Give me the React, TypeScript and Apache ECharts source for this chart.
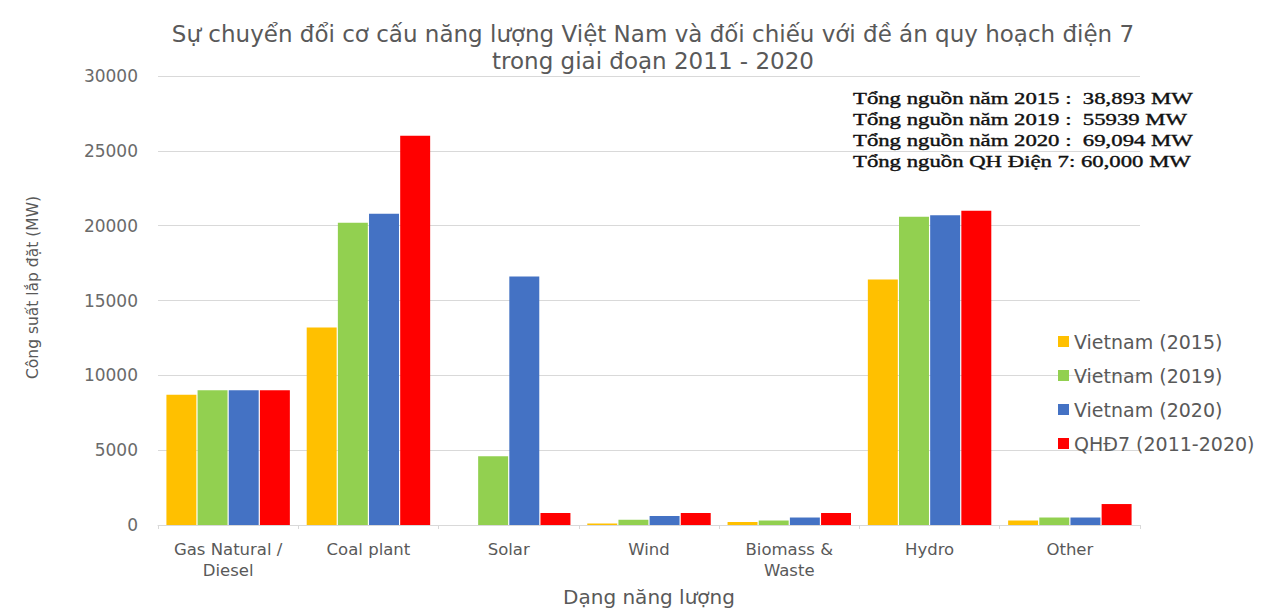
import React, { useEffect, useRef } from "react";
import * as echarts from "echarts";

const categories = [
  "Gas Natural /\nDiesel",
  "Coal plant",
  "Solar",
  "Wind",
  "Biomass &\nWaste",
  "Hydro",
  "Other",
];
const seriesNames = ["Vietnam (2015)", "Vietnam (2019)", "Vietnam (2020)", "QHĐ7 (2011-2020)"];
const vn2015 = [8700, 13200, 0, 100, 200, 16400, 300];
const vn2019 = [9000, 20200, 4600, 350, 300, 20600, 500];
const vn2020 = [9000, 20800, 16600, 600, 500, 20700, 500];
const qhd7 = [9000, 26000, 800, 800, 800, 21000, 1400];
const colors = ["#FFC000", "#92D050", "#4472C4", "#FF0000"];
const summaryLines = [
  "Tổng nguồn năm 2015 :  38,893 MW",
  "Tổng nguồn năm 2019 :  55939 MW",
  "Tổng nguồn năm 2020 :  69,094 MW",
  "Tổng nguồn QH Điện 7: 60,000 MW",
];

const FONT = "DejaVu Sans";
const GRAY = "#595959";

export default function App() {
  const ref = useRef<HTMLDivElement>(null);
  useEffect(() => {
    if (!ref.current) return;
    const chart = echarts.init(ref.current, undefined, { renderer: "svg" });
    const allSeries = [vn2015, vn2019, vn2020, qhd7];
    chart.setOption({
      animation: false,
      backgroundColor: "#ffffff",
      title: {
        text: "Sự chuyển đổi cơ cấu năng lượng Việt Nam và đối chiếu với đề án quy hoạch điện 7\ntrong giai đoạn 2011 - 2020",
        left: 648,
        textAlign: "center",
        top: 15,
        textStyle: {
          fontFamily: FONT,
          fontSize: 23,
          fontWeight: "normal",
          color: GRAY,
          lineHeight: 27,
        },
      },
      legend: {
        orient: "vertical",
        left: 1053,
        top: 327,
        itemGap: 15,
        itemWidth: 11,
        itemHeight: 11,
        icon: "rect",
        data: seriesNames,
        textStyle: { fontFamily: FONT, fontSize: 19, color: GRAY },
      },
      grid: { left: 158, right: 143, top: 76, bottom: 80, containLabel: false },
      xAxis: {
        type: "category",
        data: categories,
        name: "Dạng năng lượng",
        nameLocation: "middle",
        nameGap: 62,
        nameTextStyle: { fontFamily: FONT, fontSize: 20, color: GRAY },
        axisLine: { lineStyle: { color: "#d9d9d9" } },
        axisTick: { show: true, lineStyle: { color: "#d9d9d9" }, length: 4 },
        axisLabel: {
          fontFamily: FONT,
          fontSize: 16.5,
          color: GRAY,
          lineHeight: 21,
          margin: 14,
          interval: 0,
        },
      },
      yAxis: {
        type: "value",
        min: 0,
        max: 30000,
        interval: 5000,
        name: "Công suất lắp đặt (MW)",
        nameLocation: "middle",
        nameRotate: 90,
        nameGap: 117,
        nameTextStyle: {
          fontFamily: FONT,
          fontSize: 15.5,
          color: GRAY,
          padding: [0, 0, 0, 26],
        },
        axisLine: { show: false },
        axisTick: { show: false },
        splitLine: { lineStyle: { color: "#d9d9d9" } },
        axisLabel: {
          fontFamily: FONT,
          fontSize: 17,
          color: "#6a6a6a",
          margin: 20,
          formatter: (v: number) => String(v),
        },
      },
      series: allSeries.map((d, i) => ({
        name: seriesNames[i],
        type: "bar",
        data: d,
        barGap: "4%",
        barCategoryGap: "12%",
        itemStyle: { color: colors[i] },
      })),
      graphic: summaryLines.map((t, i) => ({
        type: "text",
        x: 853,
        y: 89 + i * 21,
        scaleX: 1.3,
        style: {
          text: t,
          fontFamily: "Liberation Serif",
          fontSize: 17.5,
          fontWeight: "normal",
          fill: "#111111",
          stroke: "#111111",
          lineWidth: 0.4,
        },
      })),
    });
    return () => chart.dispose();
  }, []);
  return (
    <div
      ref={ref}
      style={{ position: "fixed", left: 0, top: 0, width: 1283, height: 612 }}
    />
  );
}
